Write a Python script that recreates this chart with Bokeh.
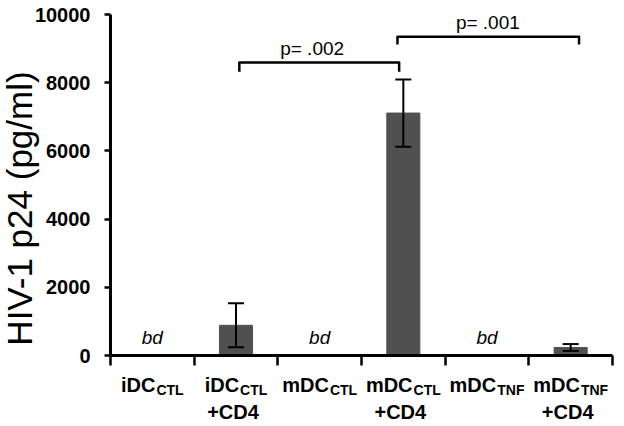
import numpy as np
from bokeh.plotting import figure
from bokeh.models import Range1d, FixedTicker, ColumnDataSource, Whisker, TeeHead
from bokeh.core.properties import value
from bokeh.embed import file_html
from bokeh.resources import INLINE

# ---- data ----
label_main = ["iDC", "iDC", "mDC", "mDC", "mDC", "mDC"]
label_sub = ["CTL", "CTL", "CTL", "CTL", "TNF", "TNF"]
label_line2 = ["", "+CD4", "", "+CD4", "", "+CD4"]
p24_mean = [0, 885, 0, 7110, 0, 235]
p24_err = [0, 645, 0, 985, 0, 100]
below_detection = [True, False, True, False, True, False]
y_ticks = [0, 2000, 4000, 6000, 8000, 10000]
y_max = 10000
bracket_left = [1.54, 3.43]
bracket_right = [3.45, 5.60]
bracket_top = [8590, 9350]
bracket_leg = [8320, 9120]
p_text = ["p= .002", "p= .001"]
p_text_x = [2.41, 4.51]
y_title = "HIV-1 p24 (pg/ml)"

# ---- layout (pixels) ----
FONT = "Liberation Sans"
W, H = 620, 424
AX_LEFT, AX_RIGHT = 110, 612      # x axis span in px
AX_TOP, AX_BOTTOM = 14, 355       # y axis span in px
n = len(label_main)
px_per_cat = (AX_RIGHT - AX_LEFT) / n
px_per_unit = (AX_BOTTOM - AX_TOP) / y_max

x_range = Range1d(-AX_LEFT / px_per_cat, (W - AX_LEFT) / px_per_cat)
y_range = Range1d(-(H - AX_BOTTOM) / px_per_unit, y_max + AX_TOP / px_per_unit)

p = figure(width=W, height=H, output_backend="svg", toolbar_location=None,
           x_range=x_range, y_range=y_range,
           min_border_left=0, min_border_right=0, min_border_top=0, min_border_bottom=0)
p.outline_line_color = None
p.xgrid.grid_line_color = None
p.ygrid.grid_line_color = None
p.background_fill_color = "white"
p.border_fill_color = "white"

xc = np.arange(n) + 0.5

# bars
measured = [i for i in range(n) if not below_detection[i]]
src = ColumnDataSource(dict(
    x=[xc[i] for i in measured],
    top=[p24_mean[i] for i in measured],
    upper=[p24_mean[i] + p24_err[i] for i in measured],
    lower=[p24_mean[i] - p24_err[i] for i in measured],
))
p.vbar(x="x", top="top", width=0.395, bottom=0, source=src,
       fill_color="#505050", line_color="#505050")
w = Whisker(source=src, base="x", upper="upper", lower="lower", line_width=2,
            line_color="black", level="overlay",
            upper_head=TeeHead(size=16, line_width=2, line_color="black"),
            lower_head=TeeHead(size=16, line_width=2, line_color="black"))
p.add_layout(w)

# "bd" labels
bd_x = [xc[i] for i in range(n) if below_detection[i]]
p.text(x=bd_x, y=[0] * len(bd_x), text=["bd"] * len(bd_x), y_offset=-18,
       text_align="center", text_baseline="alphabetic", text_font=value(FONT),
       text_font_style="italic", text_font_size="19px", text_color="black")

# significance brackets
xs = [[l, l, r, r] for l, r in zip(bracket_left, bracket_right)]
ys = [[lg, t, t, lg] for t, lg in zip(bracket_top, bracket_leg)]
p.multi_line(xs=xs, ys=ys, line_color="black", line_width=2.5, line_join="round")
p.text(x=p_text_x, y=bracket_top, text=p_text, y_offset=-14,
       text_align="center", text_baseline="alphabetic", text_font=value(FONT),
       text_font_size="19px", text_color="black")

# axes (real axes, fixed at the data origin)
p.xaxis.fixed_location = 0
p.xaxis.bounds = (0, n)
p.xaxis.ticker = FixedTicker(ticks=list(range(n + 1)))
p.xaxis.major_label_overrides = {i: "" for i in range(n + 1)}
p.xaxis.major_tick_out = 10
p.xaxis.major_tick_in = 0
p.xaxis.minor_tick_line_color = None
p.xaxis.axis_line_width = 3
p.xaxis.major_tick_line_width = 2.5

p.yaxis.fixed_location = 0
p.yaxis.bounds = (0, y_max)
p.yaxis.ticker = FixedTicker(ticks=y_ticks)
p.yaxis.major_tick_out = 6
p.yaxis.major_tick_in = 0
p.yaxis.minor_tick_line_color = None
p.yaxis.axis_line_width = 3
p.yaxis.major_tick_line_width = 2.5
p.yaxis.major_label_text_font = FONT
p.yaxis.major_label_text_font_style = "bold"
p.yaxis.major_label_text_font_size = "20px"
p.yaxis.major_label_text_color = "black"
p.yaxis.major_label_standoff = 14
p.yaxis.formatter.use_scientific = False

# y axis title
p.text(x=[0], y=[0], text=[y_title], x_offset=-91, y_offset=-147, angle=np.pi / 2,
       text_align="center", text_baseline="alphabetic", text_font=value(FONT),
       text_font_size="35px", text_color="black")

# category labels with subscripts
cw = {'i': 0.278, 'D': 0.722, 'C': 0.722, 'm': 0.889, 'T': 0.611, 'L': 0.611,
      'N': 0.722, 'F': 0.611, '+': 0.584, '4': 0.556}
MAIN_FS, SUB_FS = 20, 14
main_off, sub_off = [], []
for i in range(n):
    wm = sum(cw[c] for c in label_main[i]) * MAIN_FS
    ws = sum(cw[c] for c in label_sub[i]) * SUB_FS
    start = -(wm + ws + 1) / 2
    main_off.append(start)
    sub_off.append(start + wm + 1)

p.text(x=list(xc), y=[0] * n, text=label_main, x_offset=main_off, y_offset=29,
       text_align="left", text_baseline="alphabetic", text_font=value(FONT),
       text_font_style="bold", text_font_size=f"{MAIN_FS}px", text_color="black")
p.text(x=list(xc), y=[0] * n, text=label_sub, x_offset=sub_off, y_offset=34,
       text_align="left", text_baseline="alphabetic", text_font=value(FONT),
       text_font_style="bold", text_font_size=f"{SUB_FS}px", text_color="black")
l2 = [i for i in range(n) if label_line2[i]]
p.text(x=[xc[i] for i in l2], y=[0] * len(l2), text=[label_line2[i] for i in l2],
       x_offset=-3, y_offset=56, text_align="center", text_baseline="alphabetic",
       text_font=value(FONT), text_font_style="bold", text_font_size=f"{MAIN_FS}px",
       text_color="black")

open("out.html", "w").write(file_html(p, INLINE))
